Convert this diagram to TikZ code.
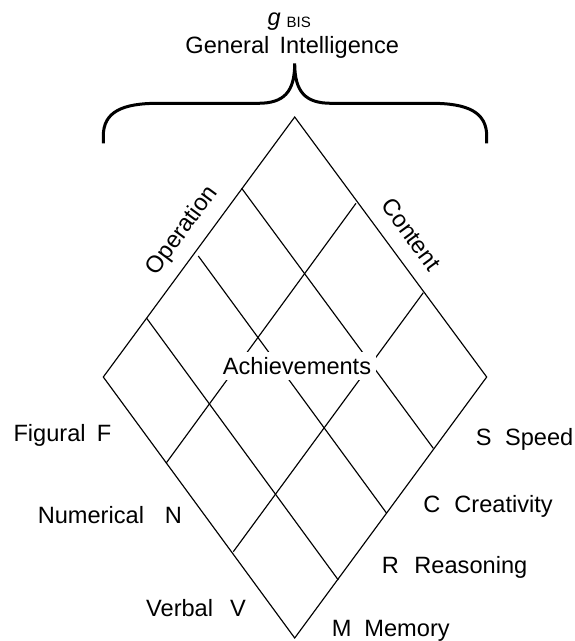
\documentclass[tikz,border=0pt]{standalone}
\usepackage{fontspec}
\setmainfont{Liberation Sans}
\begin{document}
\begin{tikzpicture}[x=1pt,y=-1pt,
  edge/.style={line width=1.15pt, line join=miter},
  gridline/.style={line width=1.15pt},
  brace/.style={line width=3pt, line cap=butt},
  big/.style={font=\fontsize{23.6}{28}\selectfont},
  lab/.style={big, anchor=base west, inner sep=0pt},
  side/.style={big, anchor=center, inner sep=0pt},
  achv/.style={big, anchor=base west, fill=white, inner xsep=4.7pt, inner ysep=5.5pt, text height=17pt, text depth=0pt},
]
\useasboundingbox (0,0) rectangle (574,641);
% rhombus corners
\coordinate (T) at (294.7,117);
\coordinate (R) at (486.7,377);
\coordinate (B) at (294.7,638);
\coordinate (L) at (103.3,377);
\draw[edge] (T) -- (R) -- (B) -- (L) -- cycle;
% lines parallel to the top-right edge
\coordinate (dr1a) at (241.7,188.3); \coordinate (dr1b) at (433.3,448.3);
\coordinate (dr2a) at (198.3,256.0); \coordinate (dr2b) at (386.7,513.3);
\coordinate (dr3a) at (146.7,318.3); \coordinate (dr3b) at (338.3,580.0);
% lines parallel to the top-left edge
\coordinate (dl1a) at (356.0,203.3); \coordinate (dl1b) at (166.0,463.3);
\coordinate (dl2a) at (423.3,292.7); \coordinate (dl2b) at (233.3,551.7);
\draw[gridline] (dr1a) -- (dr1b);
\draw[gridline] (dr2a) -- (dr2b);
\draw[gridline] (dr3a) -- (dr3b);
\draw[gridline] (dl1a) -- (dl1b);
\draw[gridline] (dl2a) -- (dl2b);
% centre label
\node[achv] (ach) at (218,374) {Achievements\hspace{9pt}};
% side labels
\node[side, rotate=53.6] (op) at (182.5,230.8) {Operation};
\node[side, rotate=-53.6] (co) at (411.2,234.2) {Content};
% brace
\draw[brace] (103.3,143.3) -- (103.3,136) .. controls (103.3,112) and (122,103.3) .. (158,103.3)
  -- (258,103.3) .. controls (284,103.3) and (294.7,92) .. (294.7,63.3)
  .. controls (294.7,92) and (305.4,103.3) .. (331.4,103.3)
  -- (431.4,103.3) .. controls (467.4,103.3) and (486.7,112) .. (486.7,136) -- (486.7,143.3);
% title
\node[big, anchor=base, inner sep=0pt] (gi) at (292.2,53) {General\hspace{10.2pt}Intelligence};
\node[big, anchor=base west, inner sep=0pt] (g) at (267.5,25.5) {\itshape g};
\node[anchor=base west, inner sep=0pt, font=\fontsize{15}{17}\selectfont] (bis) at (286.5,27.3) {BIS};
% content labels
\node[lab] (fig) at (13.3,441.7) {Figural\hspace{11.2pt}F};
\node[lab] (num) at (37.6,523.3) {Numerical\hspace{21pt}N};
\node[lab] (verb) at (146,616) {Verbal\hspace{17pt}V};
% operation labels
\node[lab] (spd) at (475.6,445) {S\hspace{13.5pt}Speed};
\node[lab] (cre) at (423.2,512.5) {C\hspace{14pt}Creativity};
\node[lab] (rea) at (381.6,573.3) {R\hspace{15.6pt}Reasoning};
\node[lab] (mem) at (331.6,636.5) {M\hspace{13pt}Memory};
\end{tikzpicture}
\end{document}
